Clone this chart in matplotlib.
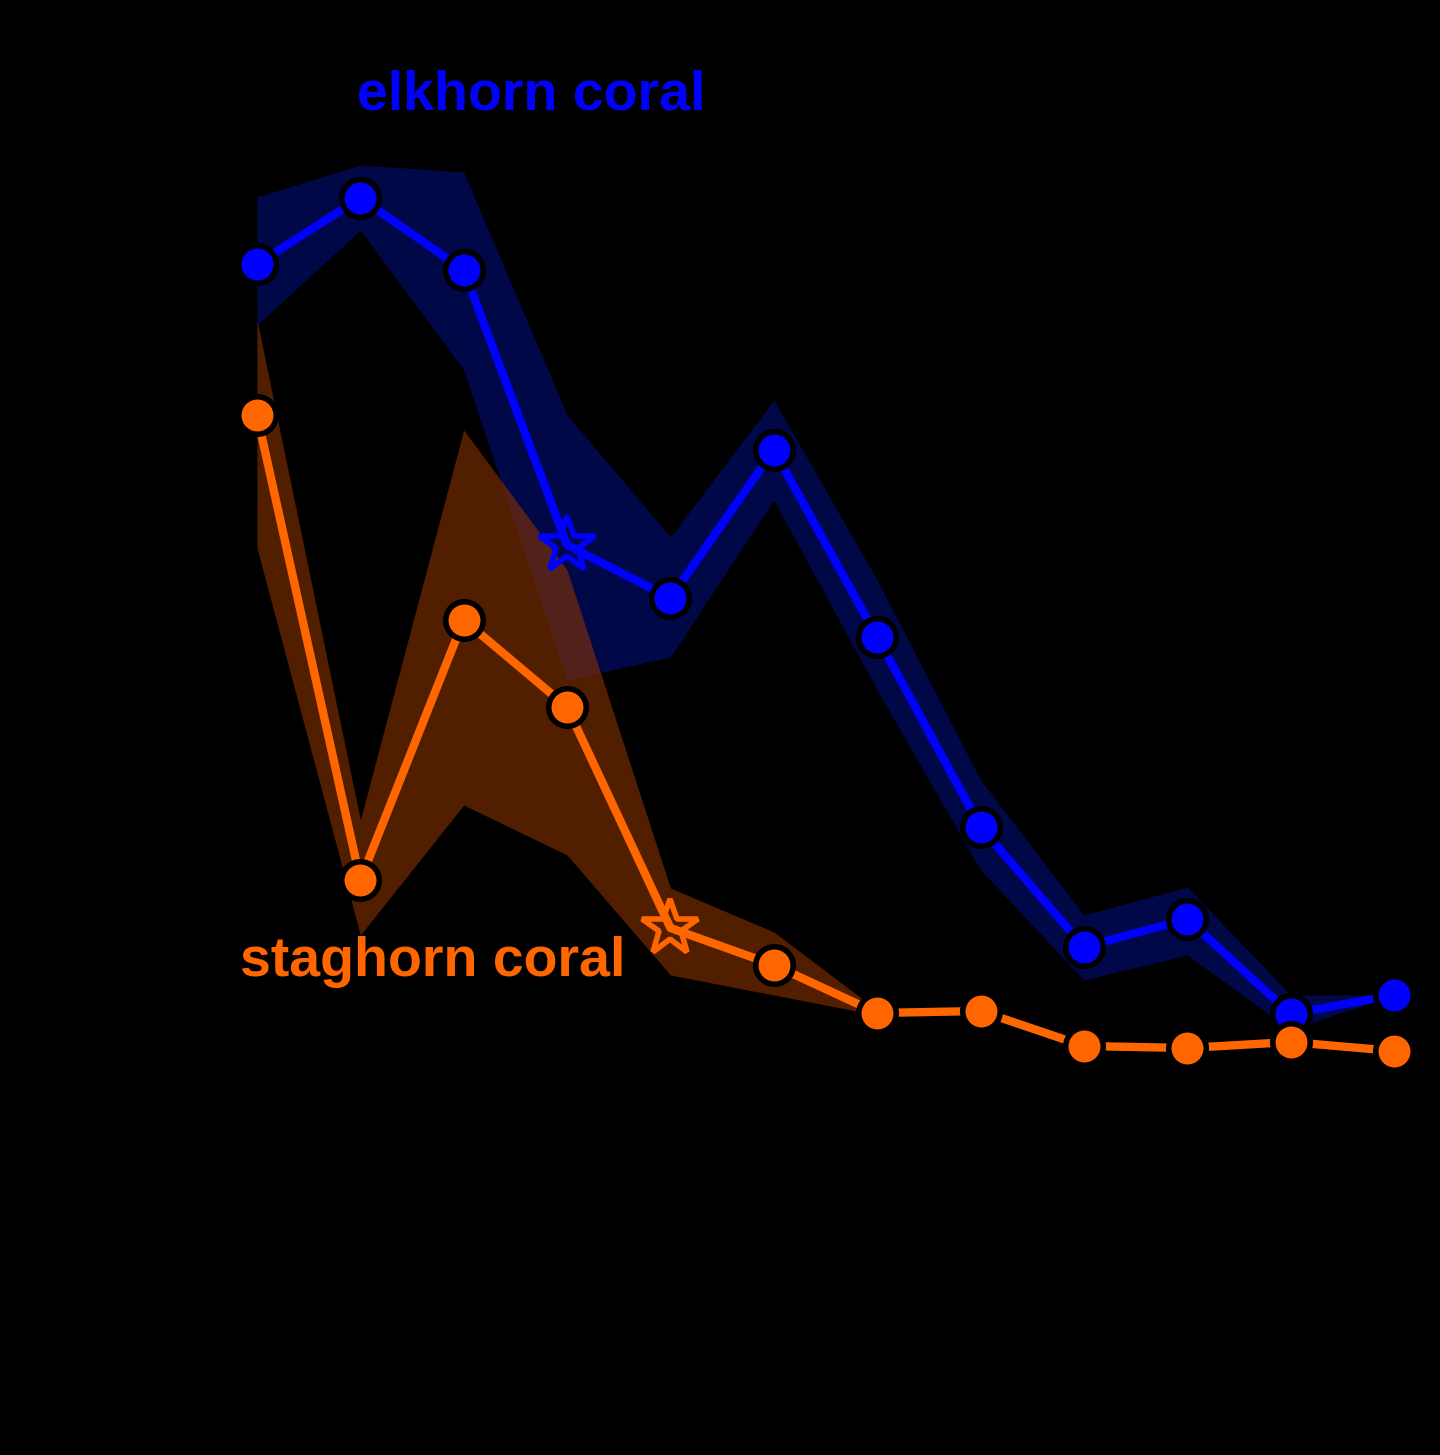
import matplotlib
matplotlib.use("Agg")
import matplotlib.pyplot as plt

# time steps (12 survey points)
steps = list(range(12))

# elkhorn coral
elk = [83.6, 90.2, 83.0, 55.5, 50.2, 65.0, 46.3, 27.3, 15.3, 18.1, 8.6, 10.5]
elk_hi = [90.3, 93.5, 92.8, 68.5, 56.3, 70.0, 52.0, 32.0, 18.5, 21.3, 10.5, 10.5]
elk_lo = [77.5, 87.0, 73.0, 42.0, 44.3, 60.0, 41.0, 23.0, 12.0, 14.5, 7.0, 10.5]
elk_star = 3

# staghorn coral
stag = [68.5, 22.0, 48.0, 39.3, 17.2, 13.5, 8.7, 8.9, 5.4, 5.2, 5.8, 4.9]
stag_hi = [78.0, 28.0, 67.0, 53.0, 21.2, 16.8, 9.0, 8.9, 5.4, 5.2, 5.8, 4.9]
stag_lo = [55.2, 16.5, 29.5, 24.5, 12.5, 10.5, 8.5, 8.9, 5.4, 5.2, 5.8, 4.9]
stag_star = 4

blue = "#0000ff"
orange = "#ff6600"

fig = plt.figure(figsize=(14.4, 14.55), dpi=100, facecolor="black")
ax = fig.add_axes([0, 0, 1, 1])
ax.set_facecolor("black")
ax.set_xlim(-2.486, 11.445)
ax.set_ylim(-35.5, 110)
ax.axis("off")

ax.fill_between(steps, elk_lo, elk_hi, color="#000a55", alpha=0.85, lw=0, zorder=1)
ax.fill_between(steps, stag_lo, stag_hi, color="#8a3300", alpha=0.6, lw=0, zorder=2)

for ys, c, st in [(elk, blue, elk_star), (stag, orange, stag_star)]:
    ax.plot(steps, ys, color=c, lw=6, zorder=3)
    circ = [i for i in steps if i != st]
    ax.plot([steps[i] for i in circ], [ys[i] for i in circ], "o", ms=27,
            color=c, mec="black", mew=4, ls="none", zorder=4)
    ax.plot(steps[st], ys[st], "*", ms=42, mfc="none", mec=c, mew=4, zorder=4)

ax.text(2.65, 100.5, "elkhorn coral", color=blue, fontsize=40, fontweight="bold",
        family="Liberation Sans", ha="center", va="center")
ax.text(1.7, 13.8, "staghorn coral", color=orange, fontsize=40, fontweight="bold",
        family="Liberation Sans", ha="center", va="center")

fig.savefig("out.png", dpi=100, facecolor="black")
